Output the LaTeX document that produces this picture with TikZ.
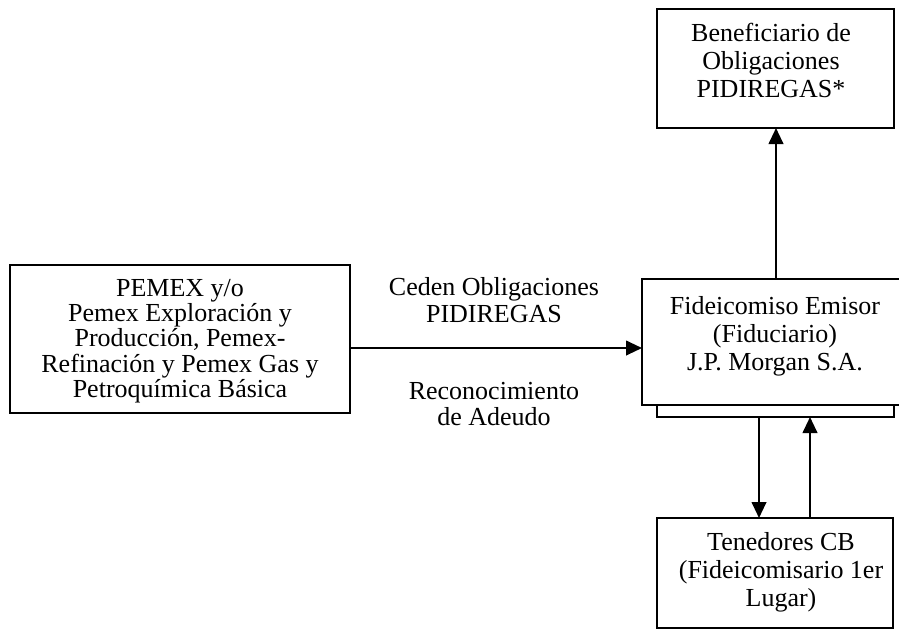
\documentclass[tikz,border=0pt]{standalone}
\usepackage{fontspec}
\setmainfont{Liberation Serif}
\usetikzlibrary{arrows.meta}
\begin{document}
\begin{tikzpicture}[x=0.75pt,y=-0.75pt,
  box/.style={draw=black,line width=1.5pt,fill=white,inner sep=0pt,outer sep=0pt},
  txt/.style={align=center,inner sep=0pt,font=\fontsize{19.5}{19}\selectfont},
  txtl/.style={align=center,inner sep=0pt,font=\fontsize{19.5}{20}\selectfont},
  txtb/.style={align=center,inner sep=0pt,font=\fontsize{19.5}{21}\selectfont},
  conn/.style={line width=1.5pt,-{Triangle[length=12pt,width=11pt]}}]
\useasboundingbox (0,0) rectangle (899,637);
% boxes
\node[box,minimum width=255pt,minimum height=111pt] (pemex) at (180,339) {};
\node[box,minimum width=177.75pt,minimum height=89.25pt] (benef) at (775.5,68.5) {};
\node[box,minimum width=177.75pt,minimum height=95.25pt] (fidback) at (775.5,353.5) {};
\node[box,minimum width=194.25pt,minimum height=94.5pt] (fid) at (771.5,342) {};
\node[box,minimum width=177pt,minimum height=82.5pt] (tened) at (775,573) {};
% texts
\node[txt] (pemext) at (180,341) {PEMEX y/o\\Pemex Exploración y\\Producción, Pemex-\\Refinación y Pemex Gas y\\Petroquímica Básica};
\node[txtb] (beneft) at (771,60) {Beneficiario de\\Obligaciones\\PIDIREGAS*};
\node[txtb] (fidt) at (775,336) {Fideicomiso Emisor\\(Fiduciario)\\J.P. Morgan S.A.};
\node[txtb] (tenedt) at (781,572) {Tenedores CB\\(Fideicomisario 1er\\Lugar)};
\node[txtl] (lab1) at (494,300) {Ceden Obligaciones\\PIDIREGAS};
\node[txtl] (lab2) at (494,404) {Reconocimiento\\de Adeudo};
% connectors
\coordinate (ay) at (0,348);
\coordinate (vx) at (776,0);
\coordinate (dx) at (759,0);
\coordinate (ux) at (810,0);
\draw[conn] (pemex.east |- ay) -- (fid.west |- ay);
\draw[conn] (fid.north -| vx) -- (benef.south -| vx);
\draw[conn] (fidback.south -| dx) -- (tened.north -| dx);
\draw[conn] (tened.north -| ux) -- (fidback.south -| ux);
\end{tikzpicture}
\end{document}
